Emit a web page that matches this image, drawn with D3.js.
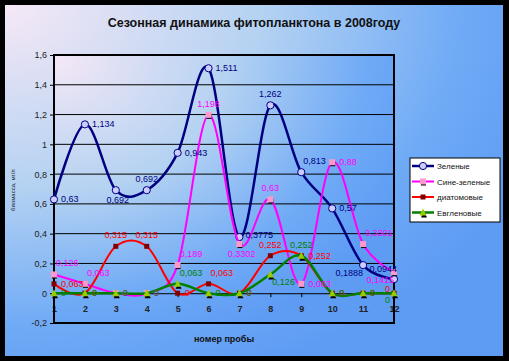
<!DOCTYPE html>
<html><head><meta charset="utf-8">
<script src="https://cdn.jsdelivr.net/npm/d3@7"></script>
<style>html,body{margin:0;padding:0;background:#000;}svg{display:block;font-family:"Liberation Sans",Arial,sans-serif;}</style>
</head><body>
<svg id="c" width="509" height="361"></svg>
<script>
const samples = [1,2,3,4,5,6,7,8,9,10,11,12];
const zelenye = [0.63,1.134,0.692,0.692,0.943,1.511,0.3775,1.262,0.813,0.57,0.1888,0.0944];
const sineZelenye = [0.126,0.063,0,0,0.189,1.198,0.3302,0.63,0.063,0.88,0.3301,0.1415];
const diatomovye = [0.063,0,0.315,0.315,0,0.063,0,0.252,0.252,0,0,0];
const evglenovye = [0,0,0,0,0.063,0,0,0.126,0.252,0,0,0];
const yTicks = [-0.2,0,0.2,0.4,0.6,0.8,1,1.2,1.4,1.6];
const seriesNames = ["Зеленые","Сине-зеленые","диатомовые","Евгленовые"];
const titleText = "Сезонная динамика фитопланктона в 2008году";
const xTitle = "номер пробы";
const yTitle = "биомасса, мг/л";

// label placement codes (layout only)
const placeZ = ["r","r","b","a","r","r","r2","a","ar","r","bl","al"];
const placeS = ["ar","ar","r","r","ar","a","b","a","r","r","ar","bl"];
const placeD = ["r","r","a","a","r","ar","r","a","r","r","r","al2"];
const placeE = ["r","r","r","r","ar","r","r","br","a","r","r","bl2"];
const placeMap = {
  r:{a:"start",dx:7,dy:3}, r2:{a:"start",dx:6,dy:1}, a:{a:"middle",dx:0,dy:-8}, b:{a:"middle",dx:2,dy:13},
  ar:{a:"start",dx:2,dy:-8}, br:{a:"start",dx:2,dy:11}, al:{a:"end",dx:3,dy:-7}, bl:{a:"end",dx:0,dy:11},
  al2:{a:"end",dx:-4,dy:-1}, bl2:{a:"end",dx:-4,dy:10}
};

const svg = d3.select("#c");
const defs = svg.append("defs");
function grad(id){
  const g = defs.append("radialGradient").attr("id",id).attr("cx",0).attr("cy",0).attr("r",1.15).attr("fx",0).attr("fy",0);
  g.append("stop").attr("offset",0).attr("stop-color","#F6E8F6");
  g.append("stop").attr("offset",0.45).attr("stop-color","#B4D2F2");
  g.append("stop").attr("offset",0.8).attr("stop-color","#6FAAF6");
  g.append("stop").attr("offset",1).attr("stop-color","#5E9CF4");
}
grad("bg"); grad("pg");

svg.append("rect").attr("x",0).attr("y",0).attr("width",509).attr("height",361).attr("fill","#000");
svg.append("rect").attr("x",5).attr("y",5).attr("width",498).attr("height",351).attr("fill","url(#bg)");

const x = d3.scaleLinear().domain([1,12]).range([54,394]);
const y = d3.scaleLinear().domain([-0.2,1.6]).range([323,55]);

svg.append("rect").attr("x",x(1)).attr("y",y(1.6)).attr("width",x(12)-x(1)).attr("height",y(-0.2)-y(1.6)).attr("fill","url(#pg)");

// gridlines
svg.append("g").selectAll("line").data(yTicks.filter(v=>v>0.01 && v<1.59)).join("line")
  .attr("x1",x(1)).attr("x2",x(12)).attr("y1",d=>y(d)).attr("y2",d=>y(d)).attr("stroke","#000").attr("stroke-width",1);

// y axis
const yAxis = d3.axisLeft(y).tickValues(yTicks).tickSize(4).tickPadding(3).tickFormat(d=>String(+d.toFixed(1)).replace(".",","));
const gy = svg.append("g").attr("transform",`translate(${x(1)},0)`).call(yAxis);
gy.select(".domain").remove();
gy.selectAll("line").attr("stroke","#000");
gy.selectAll("text").attr("font-size",9).attr("fill","#222").attr("font-family","Liberation Sans, Arial, sans-serif");

// x axis at 0
const xAxis = d3.axisBottom(x).tickValues(samples).tickSize(4).tickPadding(8).tickFormat(d3.format("d"));
const gx = svg.append("g").attr("transform",`translate(0,${y(0)})`).call(xAxis);
gx.select(".domain").attr("stroke","#000").attr("stroke-width",1);
gx.selectAll("line").attr("stroke","#000");
gx.selectAll("text").attr("font-size",9).attr("font-weight","bold").attr("fill","#222").attr("font-family","Liberation Sans, Arial, sans-serif");

// plot frame
svg.append("rect").attr("x",x(1)).attr("y",y(1.6)).attr("width",x(12)-x(1)).attr("height",y(-0.2)-y(1.6))
  .attr("fill","none").attr("stroke","#000").attr("stroke-width",2);

const fmt = v => String(v).replace(".",",");
const series = [
  {name:seriesNames[0], values:zelenye, color:"#000080", width:2.5, marker:"circle", mfill:"#CCCCFF", mstroke:"#000080", lcolor:"#000080", place:placeZ},
  {name:seriesNames[1], values:sineZelenye, color:"#FF00FF", width:2, marker:"square", mfill:"#FF99CC", mstroke:"none", lcolor:"#FF00FF", place:placeS},
  {name:seriesNames[2], values:diatomovye, color:"#FF0000", width:2, marker:"smallsq", mfill:"#800000", mstroke:"none", lcolor:"#FF0000", place:placeD},
  {name:seriesNames[3], values:evglenovye, color:"#008000", width:2.5, marker:"triangle", mfill:"#99CC00", mstroke:"none", lcolor:"#008000", place:placeE}
];
const line = d3.line().x((d,i)=>x(samples[i])).y(d=>y(d)).curve(d3.curveCardinal);

function drawMarker(g, type, cx, cy, s){
  if(type==="circle"){
    g.append("circle").attr("cx",cx).attr("cy",cy).attr("r",3.6).attr("fill",s.mfill).attr("stroke",s.mstroke).attr("stroke-width",1);
  } else if(type==="square"){
    g.append("rect").attr("x",cx-2).attr("y",cy-1).attr("width",5).attr("height",5).attr("fill","#000");
    g.append("rect").attr("x",cx-3).attr("y",cy-3).attr("width",6).attr("height",6).attr("fill",s.mfill);
  } else if(type==="smallsq"){
    g.append("rect").attr("x",cx-2.5).attr("y",cy-2.5).attr("width",5).attr("height",5).attr("fill",s.mfill);
  } else {
    g.append("path").attr("d",`M${cx-2},${cy+5}L${cx+1},${cy-1}L${cx+4},${cy+5}Z`).attr("fill","#000");
    g.append("path").attr("d",`M${cx-3.5},${cy+3}L${cx},${cy-4}L${cx+3.5},${cy+3}Z`).attr("fill",s.mfill);
  }
}

series.forEach(s=>{
  const g = svg.append("g");
  g.append("path").attr("d",line(s.values)).attr("fill","none").attr("stroke",s.color).attr("stroke-width",s.width).attr("stroke-linejoin","round");
  s.values.forEach((v,i)=>drawMarker(g, s.marker, x(samples[i]), y(v), s));
});
series.forEach(s=>{
  s.values.forEach((v,i)=>{
    const p = placeMap[s.place[i]];
    svg.append("text").attr("x",x(samples[i])+p.dx).attr("y",y(v)+p.dy).attr("text-anchor",p.a)
      .attr("font-size",9).attr("fill",s.lcolor).text(fmt(v));
  });
});

// titles
svg.append("text").attr("x",254).attr("y",27).attr("text-anchor","middle").attr("font-size",12.5).attr("font-weight","bold").attr("fill","#111").text(titleText);
svg.append("text").attr("x",224).attr("y",342).attr("text-anchor","middle").attr("font-size",9).attr("font-weight","bold").attr("fill","#111").text(xTitle);
svg.append("text").attr("transform","translate(15,190) rotate(-90)").attr("text-anchor","middle").attr("font-size",6).attr("fill","#222").text(yTitle);

// legend
const lg = svg.append("g");
lg.append("rect").attr("x",410).attr("y",158).attr("width",90).attr("height",64).attr("fill","#fff").attr("stroke","#000").attr("stroke-width",1);
series.forEach((s,i)=>{
  const ly = 166 + i*15.5;
  lg.append("line").attr("x1",412).attr("x2",434).attr("y1",ly).attr("y2",ly).attr("stroke",s.color).attr("stroke-width",s.width);
  drawMarker(lg, s.marker, 423, ly, s);
  lg.append("text").attr("x",437).attr("y",ly+3).attr("font-size",8).attr("fill","#111").text(s.name);
});
</script>
</body></html>
